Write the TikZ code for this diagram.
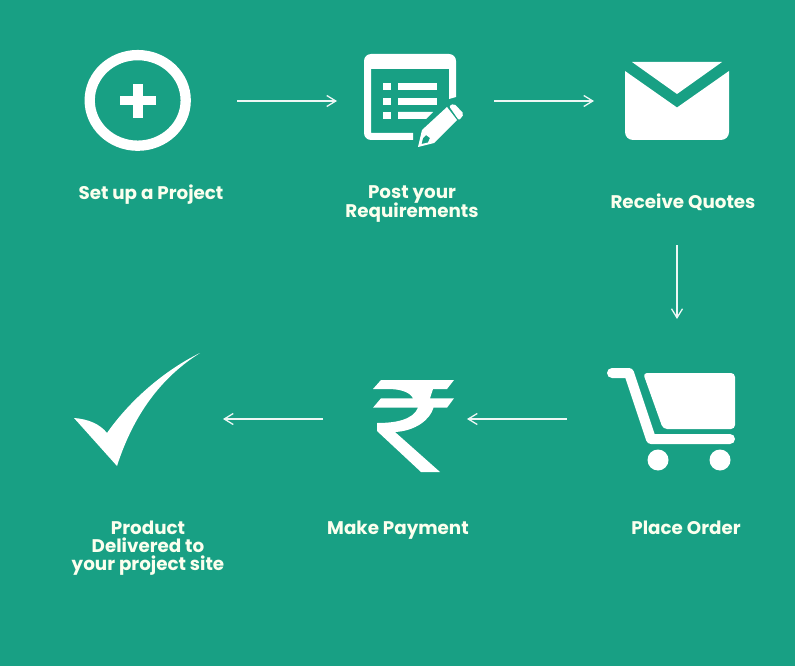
\documentclass[tikz,border=0pt]{standalone}
\usepackage{fontspec}
\setmainfont{Poppins}
\usetikzlibrary{arrows.meta}
\definecolor{bg}{HTML}{18A084}
\definecolor{labeltext}{HTML}{FBFFEE}
\tikzset{
  flow/.style={draw=white!92!bg,line width=1.3pt,-{Straight Barb[length=9pt,width=11pt,line width=1.3pt]}},
  icon/.style={fill=white,draw=none},
  lbl/.style={text=labeltext,font=\fontsize{18.3}{18}\selectfont\bfseries,align=center,inner sep=0pt,anchor=base},
}
\begin{document}
\begin{tikzpicture}[x=1pt,y=-1pt]
\useasboundingbox (0,0) rectangle (795,666);
\fill[bg] (0,0) rectangle (795,666);
% circle-plus
\draw[white,line width=10.3pt] (137.7,100.4) ellipse[x radius=48,y radius=45.3];
\fill[icon] (120,96.5) rectangle (156,105.5);
\fill[icon] (133.4,84) rectangle (142.6,118);
% document
\fill[icon] (413,140) -- (371,140) arc[start angle=90,end angle=180,radius=7] -- (364,61)
  arc[start angle=180,end angle=270,radius=7] -- (449,54)
  arc[start angle=270,end angle=360,radius=7] -- (456,97) -- (449,99) -- (449,69) -- (371,69) -- (371,133) -- (413,133) -- cycle;
\fill[icon] (383,83) rectangle (391,90);
\fill[icon] (383,98) rectangle (391,105);
\fill[icon] (383,112) rectangle (391,119);
\fill[icon] (398,83) rectangle (437,90);
\fill[icon] (398,98) rectangle (437,105);
\fill[icon] (398,112) -- (433,112) -- (426,119) -- (398,119) -- cycle;
\fill[icon,even odd rule] (418,147) -- (422,130) -- (447,107) -- (457,120) -- (434,143) -- cycle
  (423,138) -- (421.5,144) -- (428,142.5) -- (430,138) -- (426,135) -- cycle;
\fill[icon,rounded corners=2pt] (449,106) -- (454,103.5) -- (464,114) -- (459,120.5) -- cycle;
% envelope
\fill[icon] (632,62) -- (722,62) -- (677,94) -- cycle;
\fill[icon] (625,71) -- (625,132) arc[start angle=180,end angle=90,radius=8] -- (721,140)
  arc[start angle=90,end angle=0,radius=8] -- (729,71) -- (677,107.5) -- cycle;
% cart
\fill[icon,rounded corners=4pt] (643,373) -- (735,373) -- (735,429) -- (663,429) -- cycle;
\draw[white,line width=10pt,line cap=round,line join=round] (612,373) -- (629,373) -- (651,439) -- (730,439);
\fill[icon] (658,460) circle[radius=10.5];
\fill[icon] (720,460) circle[radius=10.5];
% rupee
\fill[icon] (381,380) -- (454,380) -- (447,389) -- (433,389) -- (430,398.3) -- (454,398.3) -- (447,407.7) -- (433.5,407.7)
  .. controls (430,420) and (415,431) .. (395,432) -- (440,472) -- (421,472) -- (377,431) -- (377,423)
  .. controls (395,423) and (413,420) .. (418,407.7) -- (373,407.7) -- (381,398.3) -- (413,398.3)
  .. controls (410,392) and (400,389) .. (388,389) -- (373,389) -- cycle;
% check
\fill[icon] (74,418) .. controls (88,419) and (100,424) .. (107,433)
  .. controls (130,400) and (165,370) .. (200,353)
  .. controls (165,375) and (135,410) .. (117,466) -- cycle;
% labels
\node[lbl] (setup) at (151,199) {Set up a Project};
\node[lbl] (post) at (412,217) {Post your\\[-2pt]Requirements};
\node[lbl] (quotes) at (683,208) {Receive Quotes};
\node[lbl] (order) at (686,534) {Place Order};
\node[lbl] (pay) at (398,534) {Make Payment};
\node[lbl] (deliv) at (148,570) {Product\\Delivered to\\your project site};
% connectors
\coordinate (a1) at (237,101); \coordinate (a2) at (337,101);
\coordinate (b1) at (494,101); \coordinate (b2) at (594,101);
\coordinate (c1) at (677,245); \coordinate (c2) at (677,319);
\coordinate (d1) at (567,419); \coordinate (d2) at (467,419);
\coordinate (e1) at (323,419); \coordinate (e2) at (223,419);
\draw[flow] (a1) -- (a2);
\draw[flow] (b1) -- (b2);
\draw[flow] (c1) -- (c2);
\draw[flow] (d1) -- (d2);
\draw[flow] (e1) -- (e2);
\end{tikzpicture}
\end{document}
